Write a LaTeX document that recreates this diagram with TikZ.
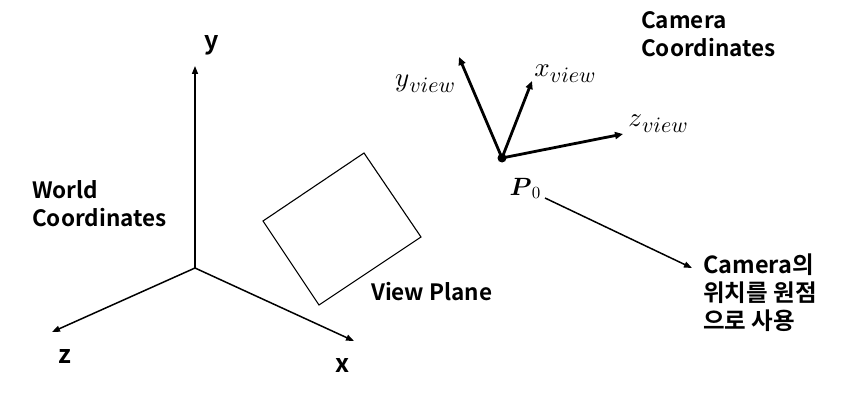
\documentclass[tikz,border=0pt]{standalone}
\usepackage{graphicx}
\usepackage{bm}
\usepackage{fontspec}
\newfontfamily\kr{Noto Sans CJK KR}[BoldFont={* Bold}]
\usetikzlibrary{arrows.meta}
\newcommand{\mlbl}[2]{\scalebox{2.7}{$#1$}\raisebox{-6pt}{\scalebox{2.2}{$#2$}}}
\newcommand{\plbl}{\scalebox{2.5}{$\bm{P}$}\raisebox{-3pt}{\scalebox{1.7}{$0$}}}
\tikzset{
  lab/.style={font=\kr\bfseries\fontsize{22.5}{28}\selectfont, inner sep=0pt, align=left},
  axlab/.style={font=\kr\bfseries\fontsize{25}{28}\selectfont, inner sep=0pt},
  mlab/.style={inner sep=0pt},
  waxis/.style={line width=1.5pt, -{Triangle[length=8pt,width=6pt]}},
  caxis/.style={line width=2.8pt, -{Triangle[length=8pt,width=7pt]}},
  plane/.style={line width=1.1pt}
}
\begin{document}
\begin{tikzpicture}[x=1pt,y=-1pt]
\useasboundingbox[fill=white] (0,0) rectangle (862,404);
% world axes
\coordinate (O) at (195,268);
\coordinate (Y) at (195,66);
\coordinate (Z) at (52,332);
\coordinate (X) at (354,341);
\draw[waxis] (O) -- (Y);
\draw[waxis] (O) -- (Z);
\draw[waxis] (O) -- (X);
\node[axlab] (ly) at (212,45) {y};
\node[axlab] (lz) at (65,356) {z};
\node[axlab] (lx) at (343,365) {x};
\node[lab, anchor=west] (world) at (32,204) {World\\Coordinates};
% view plane
\coordinate (P1) at (263,221);
\coordinate (P2) at (364,153);
\coordinate (P3) at (421,237);
\coordinate (P4) at (319,305);
\draw[plane, line join=miter] (P1) -- (P2) -- (P3) -- (P4) -- cycle;
\node[lab, anchor=west] (vp) at (371,292) {View Plane};
% camera
\coordinate (C) at (502,158);
\coordinate (Cy) at (459,57);
\coordinate (Cx) at (532,81);
\coordinate (Cz) at (623,134);
\draw[caxis] (C) -- (Cy);
\draw[caxis] (C) -- (Cx);
\draw[caxis] (C) -- (Cz);
\fill (C) circle (4.5pt);
\node[mlab] (ly2) at (425,84) {\mlbl{y}{view}};
\node[mlab] (lx2) at (565,74) {\mlbl{x}{view}};
\node[mlab] (lz2) at (658,124) {\mlbl{z}{view}};
\node[mlab] (p0) at (525,188) {\plbl};
\node[lab, anchor=west] (cam) at (641,34) {Camera\\Coordinates};
\node[lab, anchor=west, font=\kr\bfseries\fontsize{23.5}{28}\selectfont] (note) at (703,293) {Camera의\\위치를 원점\\으로 사용};
\coordinate (A0) at (545,198);
\coordinate (A1) at (692,268);
\draw[line width=1.5pt, -{Triangle[length=8pt,width=6pt]}] (A0) -- (A1);
\end{tikzpicture}
\end{document}
